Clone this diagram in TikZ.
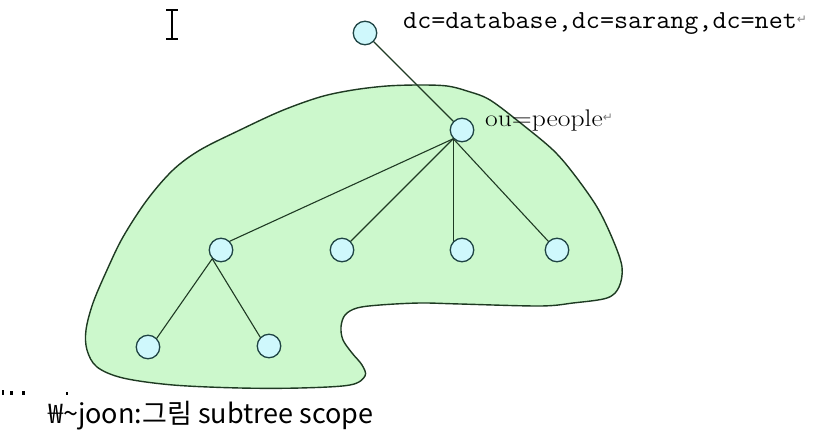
\documentclass[tikz,border=0pt]{standalone}
\usepackage{fontspec}
\newfontfamily\krfont{Noto Sans CJK KR}
\newfontfamily\symfont{DejaVu Sans}
\definecolor{blobfill}{HTML}{CCF8CC}
\definecolor{blobline}{HTML}{1E3A22}
\definecolor{nodefill}{HTML}{CFF8FC}
\definecolor{nodeline}{HTML}{1F4444}
\definecolor{connline}{HTML}{1F3A24}
\newcommand{\retsym}{{\raisebox{5pt}{\symfont\fontsize{12}{12}\selectfont\color{gray}↵}}}
\tikzset{
  treenode/.style={circle, draw=nodeline, fill=nodefill, line width=1.3pt, minimum size=23.5pt, inner sep=0pt},
  conn/.style={draw=connline, line width=1.1pt},
  blob/.style={draw=blobline, fill=blobfill, line width=1.4pt},
  lbl/.style={anchor=base west, inner sep=0pt}
}
\begin{document}
\begin{tikzpicture}[x=1pt,y=-1pt]
\useasboundingbox (0,0) rectangle (813,430);
\fill[white] (0,0) rectangle (813,430);
% scope region
\draw[blob] plot[smooth cycle, tension=0.55] coordinates {
 (365,376) (350,385) (300,388) (240,388) (173,385) (123,378) (97,367) (87,350)
 (86,330) (93,303) (107,270) (123,237) (147,200) (173,170) (200,150) (240,130)
 (281,111) (320,97) (353,90) (387,86) (420,85) (447,86) (467,91) (490,100)
 (523,125) (553,150) (573,173) (597,207) (613,240) (622,267) (619,287) (607,298)
 (573,303) (540,306) (460,304) (420,303) (380,305) (357,308) (345,315) (341,327)
 (343,340) (352,353) (362,365)};
% nodes
\node[treenode] (root) at (365,33) {};
\node[treenode] (ou) at (462,130) {};
\node[treenode] (c1) at (221,250) {};
\node[treenode] (c2) at (342,250) {};
\node[treenode] (c3) at (462,250) {};
\node[treenode] (c4) at (557,250) {};
\node[treenode] (g1) at (148,347) {};
\node[treenode] (g2) at (269,346) {};
% connectors
\draw[conn] (root) -- (ou);
\draw[conn] (ou.225) -- (c1.45);
\draw[conn] (ou.225) -- (c2.45);
\draw[conn] (ou.225) -- (c3.135);
\draw[conn] (ou.225) -- (c4.135);
\draw[conn] (c1.225) -- (g1.45);
\draw[conn] (c1.225) -- (g2.135);
% labels
\node[lbl] (dclabel) at (403,29) {\scalebox{1.05}[1]{\fontsize{26}{26}\ttfamily dc=database,dc=sarang,dc=net}\retsym};
\node[lbl] (oulabel) at (485,127) {\scalebox{1.15}[1]{\fontsize{24}{24}\selectfont ou=people}\retsym};
\node[lbl] (caption) at (48,423) {\krfont\fontsize{27}{27}\selectfont ₩\textasciitilde joon:그림 subtree scope};
% text cursor
\draw[line width=1.2pt] (172,10) -- (172,39);
\draw[line width=1.2pt] (166,10) -- (178,10);
\draw[line width=1.2pt] (166,39) -- (178,39);
% stray marks
\fill (2,390) rectangle (4,395);
\fill (10,391) rectangle (13,395);
\fill (22,391) rectangle (25,395);
\fill (66,392) rectangle (68,395);
\end{tikzpicture}
\end{document}
